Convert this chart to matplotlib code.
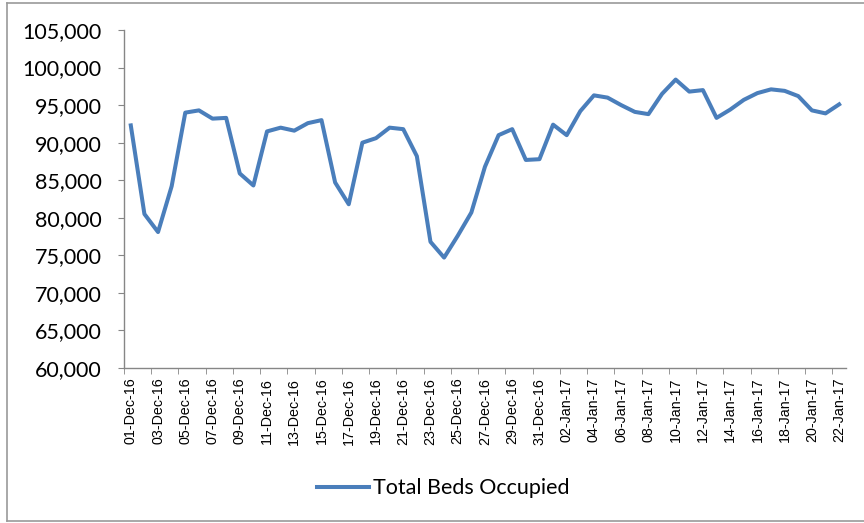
import numpy as np
import matplotlib
matplotlib.use("Agg")
import matplotlib.pyplot as plt
from matplotlib.ticker import FuncFormatter, FixedLocator
from matplotlib.lines import Line2D

# daily values, 01-Dec-16 .. 22-Jan-17
dates = (["%02d-Dec-16" % d for d in range(1, 32)] +
         ["%02d-Jan-17" % d for d in range(1, 23)])
beds = [92300, 80500, 78100, 84200, 94000, 94300, 93200, 93300, 85900, 84300,
        91500, 92000, 91600, 92600, 93000, 84700, 81800, 90000, 90600, 92000,
        91800, 88200, 76800, 74700, 77600, 80700, 86800, 91000, 91800, 87700,
        87800, 92400, 91000, 94200, 96300, 96000, 95000, 94100, 93800, 96500,
        98400, 96800, 97000, 93300, 94400, 95700, 96600, 97100, 96900, 96200,
        94300, 93900, 95100]

yticks = np.arange(60000, 105001, 5000)

calib = ["Lato", "DejaVu Sans"]
blue = "#4a7ebb"
grey = "#868686"

fig = plt.figure(figsize=(8.64, 5.23), dpi=100)
ax = fig.add_axes([0.1435, 0.2964, 0.8356, 0.6462])

x = np.arange(len(beds))
ax.plot(x, beds, color=blue, lw=2.9, solid_joinstyle="round", label="Total Beds Occupied")

ax.set_xlim(-0.5, len(beds) - 0.5)
ax.set_ylim(60000, 105000)
ax.set_yticks(yticks)
ax.yaxis.set_major_formatter(FuncFormatter(lambda v, p: f"{int(v):,}"))
for lab in ax.get_yticklabels():
    lab.set_family(calib)
    lab.set_fontsize(15.5)

# labels on every other category, tick marks on category boundaries
ax.set_xticks(x[::2])
ax.set_xticklabels(dates[::2], rotation=90, fontsize=10.3, family="Liberation Sans")
ax.tick_params(axis="x", length=0, pad=7)
ax.xaxis.set_minor_locator(FixedLocator(np.arange(-0.5, len(beds), 2)))
ax.tick_params(axis="x", which="minor", length=4, color=grey, direction="out")
ax.tick_params(axis="y", length=4, color=grey, direction="out", pad=12)

for s in ["top", "right"]:
    ax.spines[s].set_visible(False)
for s in ["left", "bottom"]:
    ax.spines[s].set_color(grey)
    ax.spines[s].set_linewidth(1)

handle = Line2D([0], [0], color=blue, lw=2.9)
fig.legend([handle], ["Total Beds Occupied"], loc="center", bbox_to_anchor=(0.513, 0.066),
           frameon=False, handlelength=2.4, handletextpad=0.2,
           prop={"family": calib, "size": 15.5})

# outer chart border
fig.add_artist(plt.Line2D([0.008, 0.008], [0.003, 0.994], color="#9a9a9a", lw=1.2))
fig.add_artist(plt.Line2D([0.008, 1.0], [0.994, 0.994], color="#9a9a9a", lw=1.2))
fig.add_artist(plt.Line2D([0.008, 1.0], [0.003, 0.003], color="#9a9a9a", lw=1.2))

fig.savefig("out.png", dpi=100)
